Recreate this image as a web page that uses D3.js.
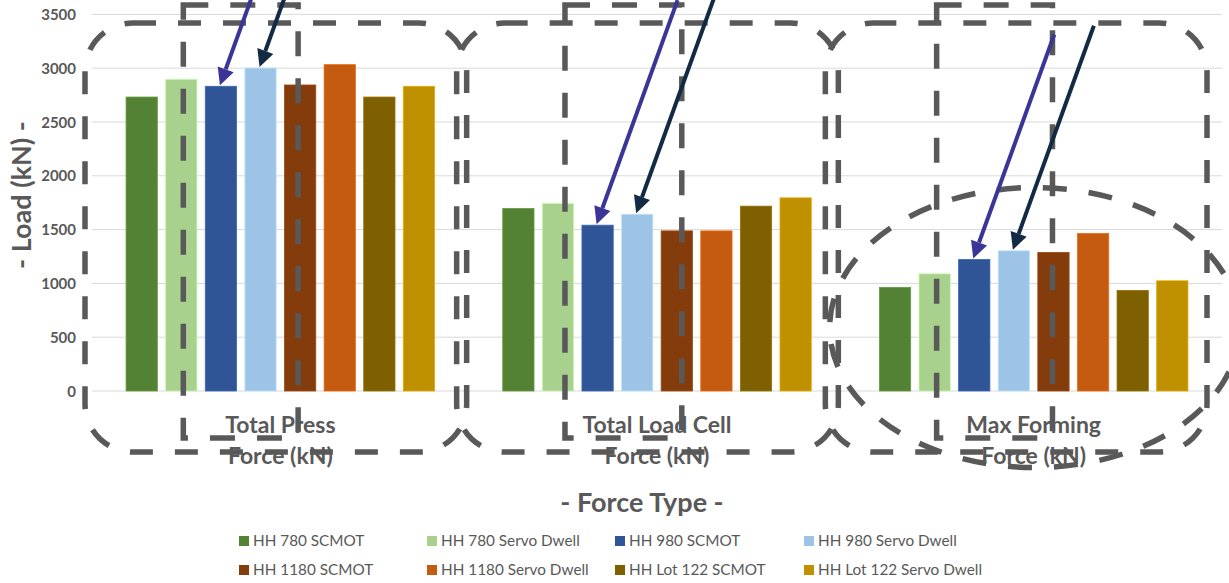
<!DOCTYPE html>
<html><head><meta charset="utf-8">
<script src="https://cdn.jsdelivr.net/npm/d3@7"></script>
<style>
body{margin:0;background:#fff;}
svg{display:block;font-family:Lato,"Open Sans",sans-serif;}
</style>
</head><body>
<svg id="chart" width="1229" height="583"></svg>
<script>
// ---------- data ----------
const categories = ["Total Press Force (kN)", "Total Load Cell Force (kN)", "Max Forming Force (kN)"];
const seriesNames = ["HH 780 SCMOT", "HH 780 Servo Dwell", "HH 980 SCMOT", "HH 980 Servo Dwell",
                     "HH 1180 SCMOT", "HH 1180 Servo Dwell", "HH Lot 122 SCMOT", "HH Lot 122 Servo Dwell"];
const totalPress    = [2732, 2897, 2832, 3002, 2844, 3033, 2732, 2832];
const totalLoadCell = [1696, 1742, 1541, 1643, 1488, 1488, 1718, 1795];
const maxForming    = [963, 1089, 1222, 1303, 1288, 1464, 935, 1024];
const yTicks = [0, 500, 1000, 1500, 2000, 2500, 3000, 3500];
const colors = ["#548235", "#A9D18E", "#2F5597", "#9DC3E6", "#843C0C", "#C55A11", "#7F6000", "#BF9000"];
const xTitle = "- Force Type -";
const yTitle = "- Load (kN) -";

const valuesByCategory = [totalPress, totalLoadCell, maxForming];

// ---------- layout ----------
const plot = {left: 92, right: 1222, top: 14.4, bottom: 391};
const svg = d3.select("#chart");
const grey = "#595959";

const x0 = d3.scaleBand().domain(categories).range([plot.left, plot.right]).padding(0);
const x1 = d3.scaleBand().domain(d3.range(seriesNames.length)).range([0, x0.bandwidth()])
  .paddingInner(0.21).paddingOuter(0.86);
const y = d3.scaleLinear().domain([0, 3500]).range([plot.bottom, plot.top]);

// gridlines
svg.append("g").selectAll("line").data(yTicks).join("line")
  .attr("x1", plot.left).attr("x2", plot.right)
  .attr("y1", d => y(d)).attr("y2", d => y(d))
  .attr("stroke", "#D9D9D9").attr("stroke-width", 1);

// y axis labels
const yAxis = d3.axisLeft(y).tickValues(yTicks).tickSize(0).tickPadding(0).tickFormat(d3.format("d"));
const gy = svg.append("g").attr("transform", `translate(${plot.left - 16},0)`).call(yAxis);
gy.select(".domain").remove();
gy.selectAll("text").attr("fill", grey).attr("font-size", 15).attr("font-weight", 700)
  .attr("font-family", "Lato, sans-serif").attr("dy", "0.34em");

// bars
const groups = svg.append("g").selectAll("g").data(categories).join("g")
  .attr("transform", d => `translate(${x0(d)},0)`);
groups.selectAll("rect").data((d, i) => valuesByCategory[i].map((v, s) => ({v, s}))).join("rect")
  .attr("x", d => x1(d.s)).attr("width", x1.bandwidth())
  .attr("y", d => y(d.v)).attr("height", d => y(0) - y(d.v))
  .attr("fill", d => colors[d.s])
  .attr("stroke", d => d3.color(colors[d.s]).brighter(0.5)).attr("stroke-width", 0.8);

// category labels
const cl = svg.append("g").selectAll("text").data(categories).join("text")
  .attr("x", d => x0(d) + x0.bandwidth() / 2)
  .attr("y", 433)
  .attr("text-anchor", "middle").attr("fill", grey)
  .attr("font-size", 23).attr("font-weight", 700);
cl.append("tspan").text(d => d.replace(" Force (kN)", "")).attr("x", d => x0(d) + x0.bandwidth() / 2);
cl.append("tspan").text("Force (kN)").attr("x", d => x0(d) + x0.bandwidth() / 2).attr("dy", 31);

// axis titles
svg.append("text").text(xTitle).attr("x", 642).attr("y", 512)
  .attr("text-anchor", "middle").attr("fill", grey).attr("font-size", 27).attr("font-weight", 700);
svg.append("text").text(yTitle).attr("transform", "translate(31,195) rotate(-90)")
  .attr("text-anchor", "middle").attr("fill", grey).attr("font-size", 27).attr("font-weight", 700);

// legend
const legCols = [239, 427, 615, 804], legRows = [541, 570];
const leg = svg.append("g").selectAll("g").data(seriesNames).join("g")
  .attr("transform", (d, i) => `translate(${legCols[i % 4]},${legRows[Math.floor(i / 4)]})`);
leg.append("rect").attr("x", 0).attr("y", -5).attr("width", 10).attr("height", 10)
  .attr("fill", (d, i) => colors[i]);
leg.append("text").text(d => d).attr("x", 14).attr("dy", "0.35em")
  .attr("fill", grey).attr("font-size", 15.3);

// ---------- annotations (hand-drawn overlay) ----------
const ann = svg.append("g").attr("fill", "none").attr("stroke", grey)
  .attr("stroke-width", 5.5).attr("stroke-dasharray", "23 22");

// dashed rounded boxes around each category
const roundBoxes = [{c: 0, dl: -7, dr: -2}, {c: 1, dl: -12, dr: -7}, {c: 2, dl: -20, dr: -15}];
ann.selectAll("rect.rb").data(roundBoxes).join("rect").attr("class", "rb")
  .attr("x", d => x0(categories[d.c]) + d.dl)
  .attr("width", d => x0.bandwidth() - d.dl + d.dr)
  .attr("y", y(3500) + 8.6).attr("height", 429)
  .attr("rx", 48).attr("ry", 48);

// dashed sharp boxes from series 1 centre to series 4 centre
const sharpBoxes = [{c: 0, dl: 2, dr: -2}, {c: 1, dl: 7, dr: 5}, {c: 2, dl: 2, dr: -1}];
ann.selectAll("rect.sb").data(sharpBoxes).join("rect").attr("class", "sb")
  .attr("x", d => x0(categories[d.c]) + x1(1) + x1.bandwidth() / 2 + d.dl)
  .attr("width", d => (x1(4) - x1(1)) - d.dl + d.dr)
  .attr("y", 5).attr("height", 433)
  .attr("stroke-dasharray", "25 22");

// dashed ellipse around the Max Forming bars
ann.append("ellipse")
  .attr("cx", x0(categories[2]) + x0.bandwidth() / 2 + 1)
  .attr("cy", y(590)).attr("rx", 205).attr("ry", 140)
  .attr("stroke-dasharray", "24 22");

// arrows to the HH 980 bars
const arrowSpecs = [{s: 2, color: "#3A3596"}, {s: 3, color: "#132A45"}];
const arrowVec = [81, -224];
const arrows = svg.append("g");
categories.forEach((c, ci) => {
  arrowSpecs.forEach(a => {
    const tx = x0(c) + x1(a.s) + x1.bandwidth() / 2 - 1;
    const ty = y(valuesByCategory[ci][a.s]) - 1;
    const sx = tx + arrowVec[0], sy = ty + arrowVec[1];
    const len = Math.hypot(arrowVec[0], arrowVec[1]);
    const ux = arrowVec[0] / len, uy = arrowVec[1] / len;
    const hl = 17, hw = 8.5;
    const bx = tx + ux * hl, by = ty + uy * hl;
    arrows.append("line").attr("x1", sx).attr("y1", sy).attr("x2", bx).attr("y2", by)
      .attr("stroke", a.color).attr("stroke-width", 4);
    arrows.append("path")
      .attr("d", `M${tx},${ty}L${bx - uy * hw},${by + ux * hw}L${bx + uy * hw},${by - ux * hw}Z`)
      .attr("fill", a.color);
  });
});
</script>
</body></html>
